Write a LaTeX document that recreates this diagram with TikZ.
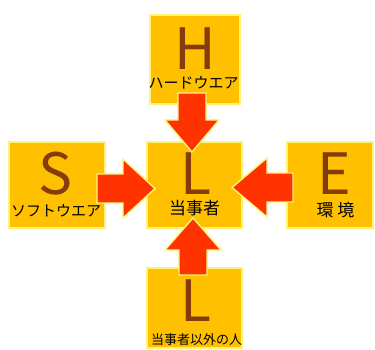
\documentclass[tikz,border=0pt]{standalone}
\usepackage{fontspec}
\setmainfont{Noto Sans CJK JP}
\definecolor{boxfill}{HTML}{FFC000}
\definecolor{glow}{HTML}{FFF27A}
\definecolor{arrowred}{HTML}{FF3300}
\definecolor{letter}{HTML}{843C0C}
\begin{document}
\begin{tikzpicture}[x=1pt,y=1pt,
  card/.style={draw=glow, line width=1.6pt, fill=boxfill, inner sep=0pt, anchor=center},
  blockarrow/.style={draw=glow, line width=1.4pt, fill=arrowred, line join=miter},
  bigletter/.style={text=letter, font=\fontsize{57}{57}\selectfont, inner sep=0pt, anchor=base},
  caption/.style={text=black, inner sep=0pt, anchor=center}]
\useasboundingbox (0,0) rectangle (375,350);
% boxes
\node[card, minimum width=90pt, minimum height=89pt] (H) at (195,290.5) {};
\node[card, minimum width=95pt, minimum height=86pt] (C) at (194.5,165) {};
\node[card, minimum width=96pt, minimum height=86pt] (S) at (57,165) {};
\node[card, minimum width=86pt, minimum height=86pt] (E) at (330,165) {};
\node[card, minimum width=95pt, minimum height=80pt] (B) at (194.5,42) {};
% arrows
\draw[blockarrow] (178,257) -- (178,230) -- (165,230) -- (192,198) -- (219,230) -- (206,230) -- (206,257) -- cycle;
\draw[blockarrow] (179,75) -- (179,100) -- (165,100) -- (193,132) -- (221,100) -- (207,100) -- (207,75) -- cycle;
\draw[blockarrow] (97,176) -- (123,176) -- (123,191) -- (155,161.5) -- (123,132) -- (123,147) -- (97,147) -- cycle;
\draw[blockarrow] (293,177) -- (267,177) -- (267,192) -- (232,162.5) -- (267,133) -- (267,148) -- (293,148) -- cycle;
% letters
\node[bigletter] (Hl) at (195,280) {H};
\node[bigletter] (Cl) at (196,155) {L};
\node[bigletter] (Sl) at (55,155) {S};
\node[bigletter] (El) at (334,155) {E};
\node[bigletter] (Bl) at (196,28) {L};
% captions
\node[caption, font=\fontsize{15}{15}\selectfont] (Ht) at (193.5,267) {ハードウエア};
\node[caption, font=\fontsize{15}{15}\selectfont] (St) at (56,139) {ソフトウエア};
\node[caption, font=\fontsize{17}{17}\selectfont] (Ct) at (194.5,142) {当事者};
\node[caption, font=\fontsize{17}{17}\selectfont] (Et) at (335.5,140) {環 境};
\node[caption, font=\fontsize{13}{13}\selectfont] (Bt) at (196.5,10) {当事者以外の人};
\end{tikzpicture}
\end{document}
